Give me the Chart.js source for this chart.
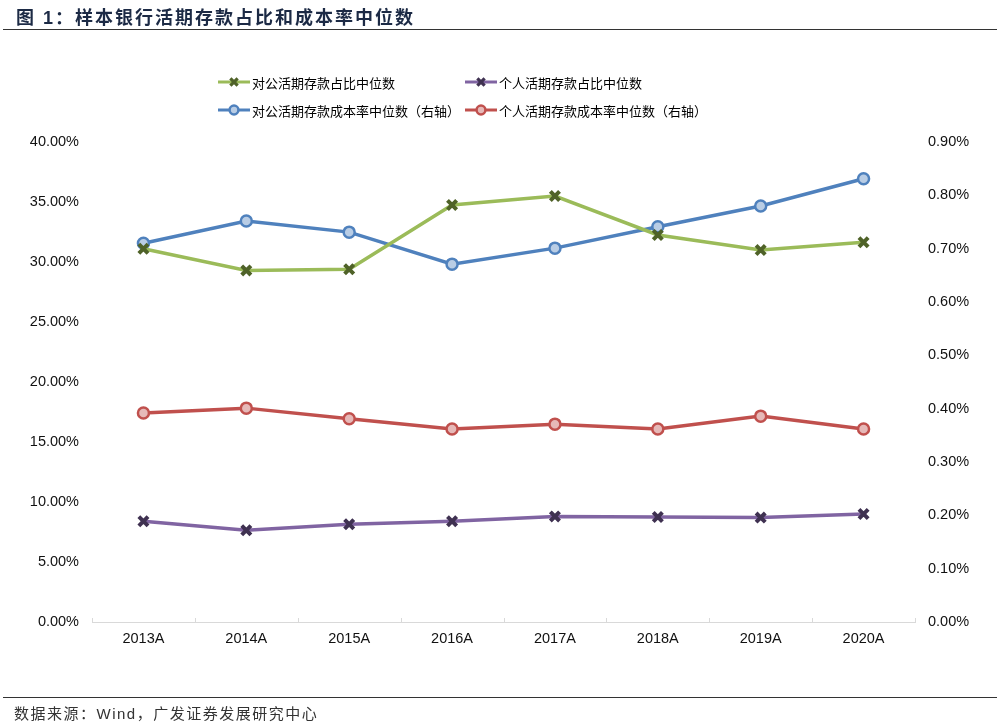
<!DOCTYPE html>
<html>
<head>
<meta charset="utf-8">
<script src="https://cdn.jsdelivr.net/npm/chart.js@4.4.0/dist/chart.umd.min.js"></script>
<style>
    html, body { margin: 0; padding: 0; background: #fff; }
    #wrap { position: relative; width: 1000px; height: 726px; overflow: hidden; }
    #chart { position: absolute; left: 0; top: 0; }
    .title {
        position: absolute; left: 16px; top: 3px;
        font: bold 18px "Liberation Sans", "Noto Sans CJK SC", sans-serif;
        color: #1c2a45; letter-spacing: 2px;
    }
    .rule { position: absolute; left: 3px; width: 994px; height: 0; border-top: 1.5px solid #333; }
    .source {
        position: absolute; left: 14px; top: 702px;
        font: 15px "Liberation Sans", "Noto Sans CJK SC", sans-serif;
        color: #333; letter-spacing: 1.5px;
    }
</style>
</head>
<body>
<div id="wrap">
    <canvas id="chart" width="1000" height="726"></canvas>
    <div class="title">图 1：样本银行活期存款占比和成本率中位数</div>
    <div class="rule" style="top:29px"></div>
    <div class="rule" style="top:697px"></div>
    <div class="source">数据来源：Wind，广发证券发展研究中心</div>
</div>
<script>
const years = ['2013A', '2014A', '2015A', '2016A', '2017A', '2018A', '2019A', '2020A']

// left axis, %
const corpShare = [31.1, 29.3, 29.4, 34.75, 35.5, 32.25, 31.0, 31.65]
const retailShare = [8.4, 7.65, 8.15, 8.4, 8.8, 8.75, 8.7, 9.0]
// right axis, %
const corpCost = [0.71, 0.752, 0.731, 0.671, 0.701, 0.741, 0.780, 0.831]
const retailCost = [0.392, 0.401, 0.381, 0.362, 0.371, 0.362, 0.386, 0.362]

const leftTicks = [0, 5, 10, 15, 20, 25, 30, 35, 40]
const rightTicks = [0, 0.1, 0.2, 0.3, 0.4, 0.5, 0.6, 0.7, 0.8, 0.9]

const FONT = '"Liberation Sans", Arial, sans-serif'
const CJK = '"Noto Sans CJK SC", "Liberation Sans", sans-serif'

// legend slots: [x, y] of the line sample start
const legendSlots = [[218, 82], [465, 82], [218, 110], [465, 110]]

const legendPlugin = {
    id: 'gridLegend',
    afterDraw(chart) {
        const ctx = chart.ctx
        chart.data.datasets.forEach((ds, i) => {
            const [x, y] = legendSlots[i]
            ctx.save()
            ctx.strokeStyle = ds.borderColor
            ctx.lineWidth = 3
            ctx.beginPath()
            ctx.moveTo(x, y)
            ctx.lineTo(x + 32, y)
            ctx.stroke()
            drawMarker(ctx, ds, x + 16, y, 0.8)
            ctx.fillStyle = '#000'
            ctx.font = '13px ' + CJK
            ctx.textBaseline = 'middle'
            ctx.fillText(ds.label, x + 34, y + 1)
            ctx.restore()
        })
    }
}

function drawMarker(ctx, ds, x, y, k) {
    ctx.save()
    if (ds.pointStyle === 'crossRot') {
        ctx.strokeStyle = ds.pointBorderColor
        ctx.lineWidth = ds.pointBorderWidth * k
        const r = ds.pointRadius * 0.7 * k
        ctx.beginPath()
        ctx.moveTo(x - r, y - r); ctx.lineTo(x + r, y + r)
        ctx.moveTo(x + r, y - r); ctx.lineTo(x - r, y + r)
        ctx.stroke()
    } else {
        ctx.fillStyle = ds.pointBackgroundColor
        ctx.strokeStyle = ds.pointBorderColor
        ctx.lineWidth = ds.pointBorderWidth
        ctx.beginPath()
        ctx.arc(x, y, ds.pointRadius * k, 0, Math.PI * 2)
        ctx.fill()
        ctx.stroke()
    }
    ctx.restore()
}

// small upward ticks between categories on the x axis
const xTickPlugin = {
    id: 'xTicks',
    afterDatasetsDraw(chart) {
        const x = chart.scales.x
        const ctx = chart.ctx
        const step = x.getPixelForValue(1) - x.getPixelForValue(0)
        ctx.save()
        ctx.strokeStyle = '#d9d9d9'
        ctx.lineWidth = 1
        ctx.beginPath()
        for (let i = 0; i <= years.length; i++) {
            const px = Math.round(x.getPixelForValue(0) - step / 2 + i * step) + 0.5
            ctx.moveTo(px, x.top)
            ctx.lineTo(px, x.top - 4)
        }
        ctx.stroke()
        ctx.restore()
    }
}

const crossPoint = (line, mark) => ({
    borderColor: line,
    pointStyle: 'crossRot',
    pointRadius: 6.5,
    pointHoverRadius: 6.5,
    pointBorderColor: mark,
    pointBackgroundColor: mark,
    pointBorderWidth: 4,
})
const circlePoint = (line, fill) => ({
    borderColor: line,
    pointStyle: 'circle',
    pointRadius: 5.5,
    pointHoverRadius: 5.5,
    pointBorderColor: line,
    pointBackgroundColor: fill,
    pointBorderWidth: 2.5,
})

const tickFont = { family: FONT, size: 14.5 }

new Chart(document.getElementById('chart'), {
    type: 'line',
    data: {
        labels: years,
        datasets: [
            { label: '对公活期存款占比中位数', data: corpShare, yAxisID: 'y', ...crossPoint('#9bbb59', '#4f6228') },
            { label: '个人活期存款占比中位数', data: retailShare, yAxisID: 'y', ...crossPoint('#8064a2', '#3f3151') },
            { label: '对公活期存款成本率中位数（右轴）', data: corpCost, yAxisID: 'y1', ...circlePoint('#4f81bd', '#b9cde5') },
            { label: '个人活期存款成本率中位数（右轴）', data: retailCost, yAxisID: 'y1', ...circlePoint('#c0504d', '#e6b9b8') },
        ].map(ds => ({ ...ds, borderWidth: 3.5, tension: 0, fill: false }))
    },
    options: {
        responsive: false,
        animation: false,
        layout: { padding: { left: 0, right: 0, top: 142, bottom: 0 } },
        plugins: {
            legend: { display: false },
            tooltip: { enabled: false }
        },
        scales: {
            x: {
                offset: true,
                grid: { display: false, drawTicks: false },
                border: { display: true, color: '#d9d9d9', width: 1 },
                ticks: { color: '#111', font: tickFont, padding: 8 },
                afterFit: s => { s.height = 104 }
            },
            y: {
                position: 'left',
                min: 0, max: 40,
                afterBuildTicks: s => { s.ticks = leftTicks.map(v => ({ value: v })) },
                grid: { display: false, drawTicks: false },
                border: { display: false },
                ticks: {
                    color: '#111', font: tickFont, padding: 13,
                    callback: v => v.toFixed(2) + '%'
                },
                afterFit: s => { s.width = 92 }
            },
            y1: {
                position: 'right',
                min: 0, max: 0.9,
                afterBuildTicks: s => { s.ticks = rightTicks.map(v => ({ value: v })) },
                grid: { display: false, drawTicks: false },
                border: { display: false },
                ticks: {
                    color: '#111', font: tickFont, padding: 13,
                    callback: v => v.toFixed(2) + '%'
                },
                afterFit: s => { s.width = 85 }
            }
        }
    },
    plugins: [legendPlugin, xTickPlugin]
})
</script>
</body>
</html>
